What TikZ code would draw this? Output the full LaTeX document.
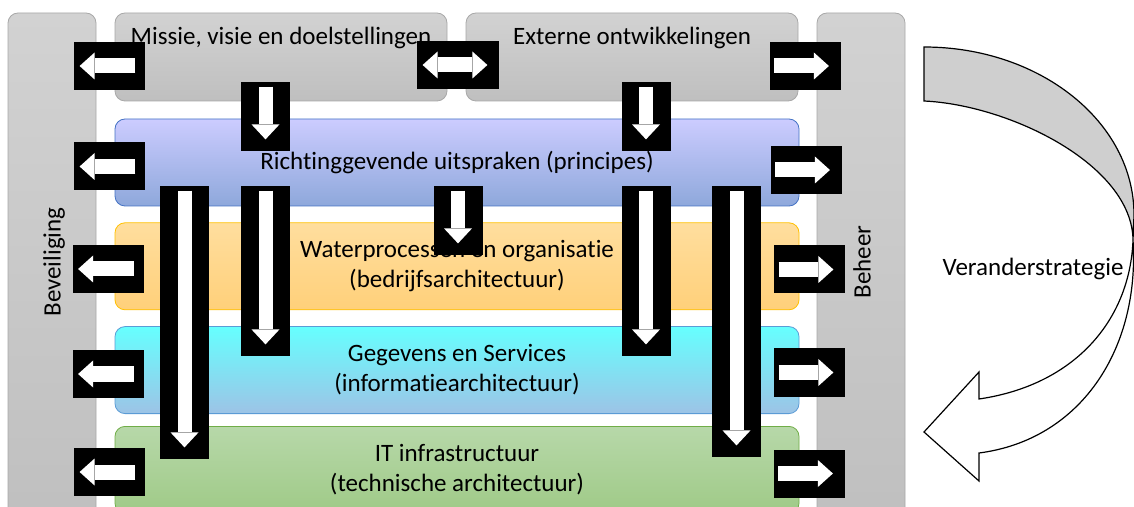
\documentclass[tikz,border=0pt]{standalone}
\usepackage{fontspec}
\setmainfont{Carlito}[Ligatures=NoCommon]
\usetikzlibrary{arrows.meta,positioning}

\definecolor{grijsboven}{HTML}{D2D2D2}
\definecolor{grijsonder}{HTML}{BFBFBF}
\definecolor{grijsrand}{HTML}{A8A8A8}
\definecolor{blauwboven}{HTML}{CCCCFF}
\definecolor{blauwonder}{HTML}{8EA8DB}
\definecolor{blauwrand}{HTML}{4472C4}
\definecolor{oranjeboven}{HTML}{FFDE9E}
\definecolor{oranjeonder}{HTML}{FFD07A}
\definecolor{oranjerand}{HTML}{FFC000}
\definecolor{cyaanboven}{HTML}{66FFFF}
\definecolor{cyaanonder}{HTML}{9DC3E6}
\definecolor{cyaanrand}{HTML}{5B9BD5}
\definecolor{groenboven}{HTML}{B7D8A9}
\definecolor{groenonder}{HTML}{9FCA87}
\definecolor{groenrand}{HTML}{70AD47}
\definecolor{boogrijs}{HTML}{CFCFCF}

\tikzstyle{kolom} = [rectangle, rounded corners=5pt, draw=grijsrand,
    top color=grijsboven, bottom color=grijsonder, inner sep=0pt,
    minimum width=44pt, minimum height=260pt]
\tikzstyle{kop} = [rectangle, rounded corners=5pt, draw=grijsrand,
    top color=grijsboven, bottom color=grijsonder, inner sep=0pt,
    minimum width=166pt, minimum height=44pt]
\tikzstyle{laag} = [rectangle, rounded corners=5pt, align=center,
    minimum width=342pt, minimum height=43.5pt]
\tikzstyle{blok} = [fill=black, inner sep=0pt, minimum width=35.5pt, minimum height=24pt]
\tikzstyle{staand} = [fill=black, inner sep=0pt, minimum width=24.5pt]
\tikzstyle{pijl} = [white, line width=7.5pt,
    -{Triangle[width=13.5pt,length=7.5pt,line width=0pt]}]
\tikzstyle{pijlaf} = [white, line width=7pt,
    -{Triangle[width=14pt,length=7.5pt,line width=0pt]}]

\begin{document}
\begin{tikzpicture}[x=0.5pt, y=-0.5pt, font=\fontsize{12.5}{15}\selectfont]
    \useasboundingbox (0,0) rectangle (1134,507);
    \clip (0,0) rectangle (1134,507);
    % zijkolommen
    \node [kolom] (beveiliging) at (52,273) {};
    \node [kolom] (beheer) at (861,273) {};
    \node [rotate=90] (beveiligingtekst) at (54,262) {Beveiliging};
    \node [rotate=90] (beheertekst) at (862,262) {Beheer};
    % bovenste blokken
    \node [kop] (missie) at (281,57) {};
    \node [kop] (extern) at (632,57) {};
    \node (missietekst) at (281,38) {Missie, visie en doelstellingen};
    \node (externtekst) at (632,38) {Externe ontwikkelingen};
    % de vier lagen
    \node [laag, draw=blauwrand, top color=blauwboven, bottom color=blauwonder] (principes) at (457,162.5)
        {Richtinggevende uitspraken (principes)};
    \node [laag, draw=oranjerand, top color=oranjeboven, bottom color=oranjeonder, below=8pt of principes] (bedrijf)
        {Waterprocessen en organisatie\\(bedrijfsarchitectuur)};
    \node [laag, draw=cyaanrand, top color=cyaanboven, bottom color=cyaanonder, below=8pt of bedrijf] (informatie)
        {Gegevens en Services\\(informatiearchitectuur)};
    \node [laag, draw=groenrand, top color=groenboven, bottom color=groenonder, below=6pt of informatie] (techniek)
        {IT infrastructuur\\(technische architectuur)};

    % veranderstrategie
    \draw [fill=white, line width=0.6pt] (1133,240) .. controls (1140,350) and (1080,440) .. (979,453)
        -- (979,481) -- (924,432) -- (979,372) -- (979,399)
        .. controls (1075,385) and (1130,320) .. (1133,240) -- cycle;
    \draw [fill=boogrijs, line width=0.6pt] (924,47) .. controls (1040,47) and (1134,122) .. (1134,215)
        -- (1133,240) .. controls (1132,165) and (1010,105) .. (924,101) -- cycle;
    \node (verandering) at (1033,269) {Veranderstrategie};

    % naar beveiliging
    \node [blok] (bev1) at (109.5,66) {};
    \node [blok] (bev2) at (109.5,166.5) {};
    \node [blok] (bev3) at (108,269) {};
    \node [blok] (bev4) at (108,374) {};
    \node [blok] (bev5) at (109.5,472) {};
    \draw [pijl] ([xshift=-5pt]bev1.east) -- ([xshift=3pt]bev1.west);
    \draw [pijl] ([xshift=-5pt]bev2.east) -- ([xshift=3pt]bev2.west);
    \draw [pijl] ([xshift=-5pt]bev3.east) -- ([xshift=3pt]bev3.west);
    \draw [pijl] ([xshift=-5pt]bev4.east) -- ([xshift=3pt]bev4.west);
    \draw [pijl] ([xshift=-5pt]bev5.east) -- ([xshift=3pt]bev5.west);
    % naar beheer
    \node [blok] (beh1) at (805,66) {};
    \node [blok] (beh2) at (806,170) {};
    \node [blok] (beh3) at (809.5,269.5) {};
    \node [blok] (beh4) at (809.5,372.5) {};
    \node [blok] (beh5) at (809,473.5) {};
    \draw [pijl] ([xshift=2.5pt]beh1.west) -- ([xshift=-6pt]beh1.east);
    \draw [pijl] ([xshift=2.5pt]beh2.west) -- ([xshift=-6pt]beh2.east);
    \draw [pijl] ([xshift=2.5pt]beh3.west) -- ([xshift=-6pt]beh3.east);
    \draw [pijl] ([xshift=2.5pt]beh4.west) -- ([xshift=-6pt]beh4.east);
    \draw [pijl] ([xshift=2.5pt]beh5.west) -- ([xshift=-6pt]beh5.east);
    % missie <-> extern
    \node [blok, minimum width=41pt] (wissel) at (458,65) {};
    \draw [pijl, {Triangle[width=13.5pt,length=7.5pt,line width=0pt]}-{Triangle[width=13.5pt,length=7.5pt,line width=0pt]}]
        ([xshift=3pt]wissel.west) -- ([xshift=-6pt]wissel.east);

    % neerwaartse pijlen
    \node [staand, minimum height=34.5pt] (af1) at (265.5,116.5) {};
    \node [staand, minimum height=34.5pt] (af2) at (646,116.5) {};
    \node [staand, minimum height=136.5pt] (af3) at (184.5,322.5) {};
    \node [staand, minimum height=85pt] (af4) at (265.5,271) {};
    \node [staand, minimum height=34.5pt] (af5) at (458,220.5) {};
    \node [staand, minimum height=85pt] (af6) at (646,271) {};
    \node [staand, minimum height=135.5pt] (af7) at (736.5,321.5) {};
    \draw [pijlaf] ([yshift=-2.5pt]af1.north) -- ([yshift=6pt]af1.south);
    \draw [pijlaf] ([yshift=-2.5pt]af2.north) -- ([yshift=6pt]af2.south);
    \draw [pijlaf] ([yshift=-2.5pt]af3.north) -- ([yshift=6pt]af3.south);
    \draw [pijlaf] ([yshift=-2.5pt]af4.north) -- ([yshift=6pt]af4.south);
    \draw [pijlaf] ([yshift=-2.5pt]af5.north) -- ([yshift=6pt]af5.south);
    \draw [pijlaf] ([yshift=-2.5pt]af6.north) -- ([yshift=6pt]af6.south);
    \draw [pijlaf] ([yshift=-2.5pt]af7.north) -- ([yshift=6pt]af7.south);
\end{tikzpicture}
\end{document}
